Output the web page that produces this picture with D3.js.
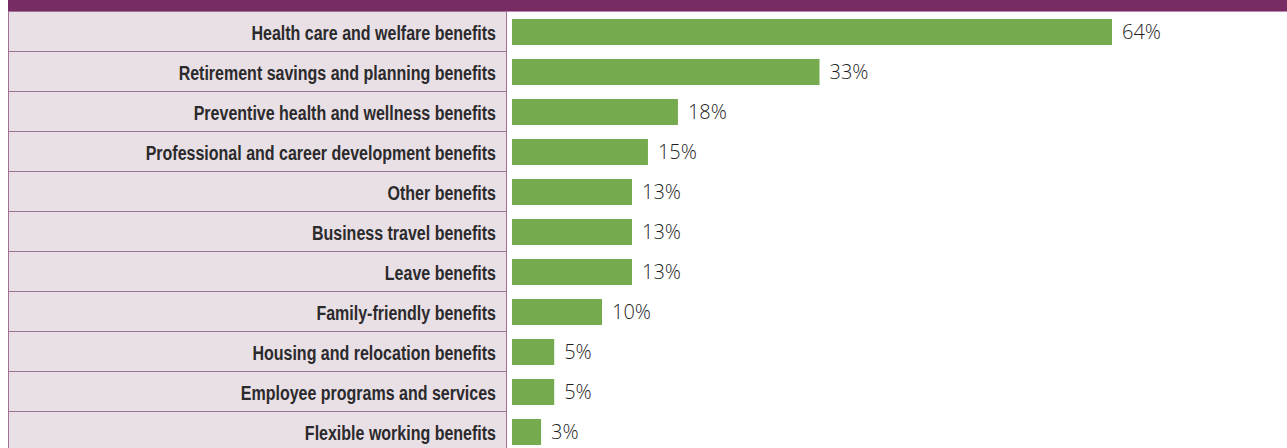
<!DOCTYPE html>
<html>
<head>
    <meta charset="utf-8">
    <title>Benefits</title>
    <style>
        html, body { margin: 0; padding: 0; background: #fff; }
        svg { display: block; }
        .cat { font-family: 'Liberation Sans', sans-serif; font-weight: bold; fill: #2b2a2c; }
        .val { font-family: 'Open Sans', sans-serif; font-weight: 300; fill: #1f1f1f; }
    </style>
    <script src="https://d3js.org/d3.v7.min.js"></script>
</head>
<body>
<script>

    var categories = [
        "Health care and welfare benefits",
        "Retirement savings and planning benefits",
        "Preventive health and wellness benefits",
        "Professional and career development benefits",
        "Other benefits",
        "Business travel benefits",
        "Leave benefits",
        "Family-friendly benefits",
        "Housing and relocation benefits",
        "Employee programs and services",
        "Flexible working benefits"
    ];
    // bar lengths as drawn (labels are these rounded)
    var values = [64, 32.8, 17.7, 14.5, 12.8, 12.8, 12.8, 9.6, 4.5, 4.5, 3.1];

    var width = 1287, height = 448;
    var rowTop = 11, rowH = 40;
    var cellLeft = 8, cellRight = 507;
    var barLeft = 512;

    var svg = d3.select("body").append("svg")
        .attr("width", width)
        .attr("height", height);

    var y = d3.scaleBand().domain(categories)
        .range([rowTop, rowTop + rowH * categories.length])
        .paddingInner(0).paddingOuter(0);

    var x = d3.scaleLinear().domain([0, 64]).range([barLeft, 1112]);
    var fmt = d3.format(".0f");

    // header band
    svg.append("rect").attr("x", cellLeft).attr("y", 0)
        .attr("width", width - cellLeft).attr("height", 11)
        .attr("fill", "#772d63");
    svg.append("line").attr("x1", cellLeft).attr("x2", width)
        .attr("y1", 11.5).attr("y2", 11.5)
        .attr("stroke", "#b987ad").attr("stroke-width", 1);

    // label cells
    svg.selectAll("rect.cell").data(categories).enter().append("rect")
        .attr("class", "cell")
        .attr("x", cellLeft + 0.5)
        .attr("y", function(d) { return y(d) + 0.5; })
        .attr("width", cellRight - cellLeft - 1)
        .attr("height", y.bandwidth())
        .attr("fill", "#e9e0e6")
        .attr("stroke", "#a07196")
        .attr("stroke-width", 1);

    // no condensed font installed, so squeeze the bold one sideways
    svg.selectAll("text.cat").data(categories).enter().append("text")
        .attr("class", "cat")
        .attr("transform", function(d) {
            return "translate(496," + (y(d) + y.bandwidth() / 2) + ") scale(0.8,1)";
        })
        .attr("dy", "0.44em")
        .attr("text-anchor", "end")
        .attr("font-size", 20)
        .text(function(d) { return d; });

    // bars
    svg.selectAll("rect.bar").data(values).enter().append("rect")
        .attr("class", "bar")
        .attr("x", x(0))
        .attr("y", function(d, i) { return y(categories[i]) + 8; })
        .attr("width", function(d) { return x(d) - x(0); })
        .attr("height", 26)
        .attr("fill", "#75aa4f");

    svg.selectAll("text.val").data(values).enter().append("text")
        .attr("class", "val")
        .attr("x", function(d) { return x(d) + 10; })
        .attr("y", function(d, i) { return y(categories[i]) + y.bandwidth() / 2; })
        .attr("dy", "0.42em")
        .attr("font-size", 20)
        .text(function(d) { return fmt(d) + "%"; });

</script>
</body>
</html>
